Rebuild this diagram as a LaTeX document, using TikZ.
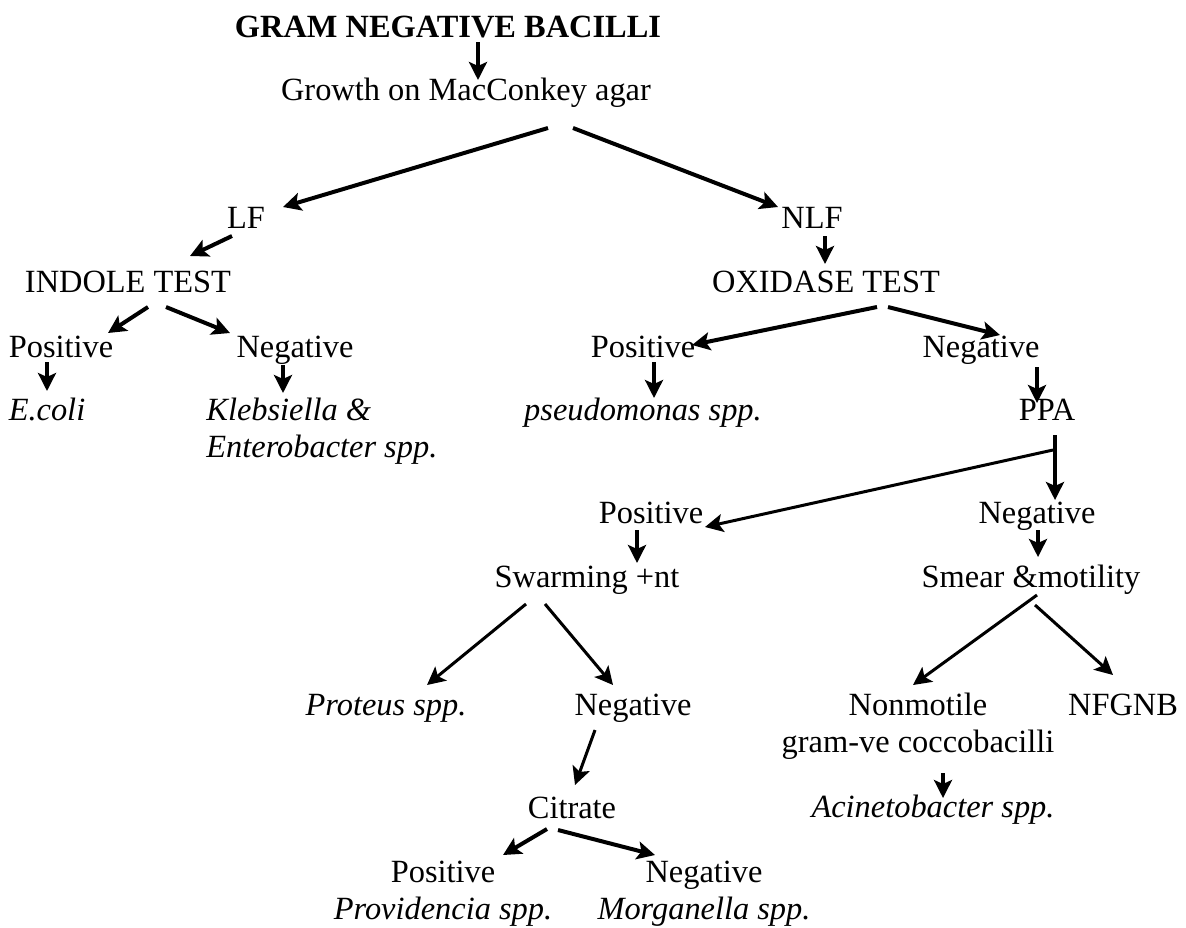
\documentclass[tikz,border=0pt]{standalone}
\usepackage{fontspec}
\setmainfont{Liberation Serif}
\usepackage{xcolor}
\usetikzlibrary{arrows.meta}
\usetikzlibrary{calc}

\begin{document}
\begin{tikzpicture}[x=0.5pt, y=-0.5pt,
        lbl/.style={inner sep=0pt, anchor=base, font=\fontsize{16.2pt}{18.5pt}\selectfont},
        head/.style={lbl, font=\fontsize{16.2pt}{18.5pt}\selectfont\bfseries},
        sp/.style={lbl, font=\fontsize{16.2pt}{18.5pt}\selectfont\itshape},
        two/.style={lbl, anchor=north, align=center},
        arr/.style={line width=2pt, -{Stealth[length=9pt, width=9pt, inset=2pt]}},
        thinarr/.style={arr, line width=1.5pt}]
        \path[use as bounding box, fill=white] (0, 0) rectangle (1186, 927);

        \node[head] (title) at (448, 37) {GRAM NEGATIVE BACILLI};
        \node[lbl] (growth) at (466, 100) {Growth on MacConkey agar};

        \node[lbl] (lf) at (246, 228) {LF};
        \node[lbl] (nlf) at (812, 228) {NLF};
        \node[lbl] (indole) at (128, 292) {INDOLE TEST};
        \node[lbl] (oxidase) at (826, 292) {OXIDASE TEST};

        \node[lbl] (indpos) at (61, 357) {Positive};
        \node[lbl] (indneg) at (295, 357) {Negative};
        \node[sp] (ecoli) at (47, 420) {E.coli};
        \node[two, align=left, anchor=north west] (klebs) at (206, 398)
            {\textit{Klebsiella \&}\\\textit{Enterobacter spp.}};

        \node[lbl] (oxipos) at (643, 357) {Positive};
        \node[lbl] (oxineg) at (981, 357) {Negative};
        \node[sp] (pseudo) at (643, 420) {pseudomonas spp.};
        \node[lbl] (ppa) at (1047, 420) {PPA};

        \node[lbl] (ppapos) at (651, 523) {Positive};
        \node[lbl] (ppaneg) at (1037, 523) {Negative};
        \node[lbl] (swarm) at (587, 587) {Swarming +nt};
        \node[lbl] (smear) at (1031, 587) {Smear \&motility};

        \node[sp] (proteus) at (386, 715) {Proteus spp.};
        \node[lbl] (swneg) at (633, 715) {Negative};
        \node[two] (nonmot) at (918, 693) {Nonmotile\\gram-ve coccobacilli};
        \node[lbl] (nfgnb) at (1123, 715) {NFGNB};
        \node[sp] (acineto) at (933, 817) {Acinetobacter spp.};

        \node[lbl] (citrate) at (572, 818) {Citrate};
        \node[two] (citpos) at (443, 861) {Positive\\\textit{Providencia spp.}};
        \node[two] (citneg) at (704, 861) {Negative\\\textit{Morganella spp.}};

        % top of the tree
        \draw[arr] ($(title.base)+(30,5)$) -- ($(growth.base)+(12,-20)$);
        \draw[arr] ($(growth.base)+(82,28)$) -- ($(lf.base)+(37,-21)$);
        \draw[arr] ($(growth.base)+(107,28)$) -- ($(nlf.base)+(-34,-21)$);
        \draw[arr] ($(lf.base)+(-14,8)$) -- ($(indole.base)+(62,-36)$);
        \draw[arr] ($(nlf.base)+(13,8)$) -- ($(oxidase.base)+(-1,-28)$);

        % indole branch
        \draw[arr] ($(indole.base)+(20,15)$) -- ($(indpos.base)+(47,-24)$);
        \draw[arr] ($(indole.base)+(38,15)$) -- ($(indneg.base)+(-65,-24)$);
        \draw[arr] ($(indpos.base)+(-14,5)$) -- ($(ecoli.base)+(0,-29)$);
        \draw[arr] ($(indneg.base)+(-12,8)$) -- ($(klebs.north west)+(77,-5)$);

        % oxidase branch
        \draw[arr] ($(oxidase.base)+(51,15)$) -- ($(oxipos.base)+(49,-12)$);
        \draw[arr] ($(oxidase.base)+(62,15)$) -- ($(oxineg.base)+(19,-22)$);
        \draw[arr] ($(oxipos.base)+(11,5)$) -- ($(pseudo.base)+(11,-22)$);
        \draw[arr] ($(oxineg.base)+(56,10)$) -- ($(ppa.base)+(-10,-17)$);
        \draw[thinarr] ($(ppa.base)+(6,30)$) -- ($(ppapos.base)+(54,4)$);
        \draw[arr] ($(ppa.base)+(8,15)$) -- ($(ppaneg.base)+(18,-23)$);
        \draw[arr] ($(ppapos.base)+(-14,7)$) -- ($(swarm.base)+(50,-24)$);
        \draw[arr] ($(ppaneg.base)+(1,7)$) -- ($(smear.base)+(7,-30)$);

        % swarming and smear
        \draw[thinarr] ($(swarm.base)+(-61,17)$) -- ($(proteus.base)+(41,-30)$);
        \draw[thinarr] ($(swarm.base)+(-42,17)$) -- ($(swneg.base)+(-20,-30)$);
        \draw[thinarr] ($(smear.base)+(6,8)$) -- ($(nonmot.north)+(-5,-8)$);
        \draw[thinarr] ($(smear.base)+(4,18)$) -- ($(nfgnb.base)+(-10,-40)$);
        \draw[thinarr] ($(swneg.base)+(-38,15)$) -- ($(citrate.base)+(3,-33)$);
        \draw[arr] ($(nonmot.north)+(25,80)$) -- ($(acineto.base)+(10,-19)$);

        % citrate
        \draw[arr] ($(citrate.base)+(-25,11)$) -- ($(citpos.north)+(60,-6)$);
        \draw[arr] ($(citrate.base)+(-14,12)$) -- ($(citneg.north)+(-49,-6)$);
    \end{tikzpicture}
\end{document}
